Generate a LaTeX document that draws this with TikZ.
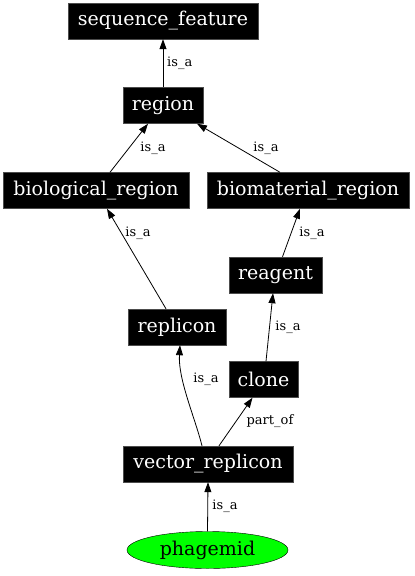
\documentclass[tikz,border=0pt]{standalone}
\usepackage{fontspec}
\setmainfont{DejaVu Serif}
\usetikzlibrary{arrows.meta,shapes.geometric}
\begin{document}
\begin{tikzpicture}[x=1pt,y=-1pt,
  term/.style={rectangle,fill=black,draw=black!70,text=white,inner sep=0pt,
    minimum height=36pt,font=\fontsize{19}{22}\selectfont},
  leaf/.style={ellipse,fill=green,draw=black,text=black,inner sep=0pt,
    minimum width=161pt,minimum height=37pt,font=\fontsize{19}{22}\selectfont},
  rel/.style={draw=black,line width=0.8pt,-{Triangle[length=10pt,width=7pt]}},
  lbl/.style={font=\fontsize{13}{15}\selectfont,inner sep=0pt}]
\useasboundingbox (0,0) rectangle (415,576);
\node[term,minimum width=190pt] (sf) at (163,21) {sequence\_feature};
\node[term,minimum width=80pt] (rg) at (163,105.5) {region};
\node[term,minimum width=186pt] (br) at (96,190.5) {biological\_region};
\node[term,minimum width=202pt] (bm) at (308,190.5) {biomaterial\_region};
\node[term,minimum width=93pt] (re) at (275.5,275) {reagent};
\node[term,minimum width=98pt] (rp) at (177,327) {replicon};
\node[term,minimum width=69pt] (cl) at (263.5,379.5) {clone};
\node[term,minimum width=170pt] (vr) at (208,464) {vector\_replicon};
\node[leaf] (ph) at (207.5,550) {phagemid};

\draw[rel] (rg.north) -- (sf.south);
\node[lbl,anchor=west] (l1) at (167,63) {is\_a};
\draw[rel] ([xshift=14pt]br.north) -- ([xshift=-15pt]rg.south);
\node[lbl] (l2) at (153,148) {is\_a};
\draw[rel] ([xshift=-28pt]bm.north) -- ([xshift=34pt]rg.south);
\node[lbl] (l3) at (266,148) {is\_a};
\draw[rel] ([xshift=-11pt]rp.north) -- ([xshift=11pt]br.south);
\node[lbl] (l4) at (138,233) {is\_a};
\draw[rel] ([xshift=7pt]re.north) -- ([xshift=-8pt]bm.south);
\node[lbl] (l5) at (312,233) {is\_a};
\draw[rel] ([xshift=2.5pt]cl.north) -- ([xshift=-2.5pt]re.south);
\node[lbl] (l6) at (288,327) {is\_a};
\draw[rel] ([xshift=-6pt]vr.north) .. controls ([xshift=-13pt,yshift=28pt]vr.north) and ([xshift=1pt,yshift=-34pt]rp.south) .. ([xshift=3pt]rp.south);
\node[lbl] (l7) at (206,379) {is\_a};
\draw[rel] ([xshift=11pt]vr.north) -- ([xshift=-11pt]cl.south);
\node[lbl] (l8) at (270,421) {part\_of};
\draw[rel] (ph.north) -- (vr.south);
\node[lbl] (l9) at (225,506) {is\_a};
\end{tikzpicture}
\end{document}
